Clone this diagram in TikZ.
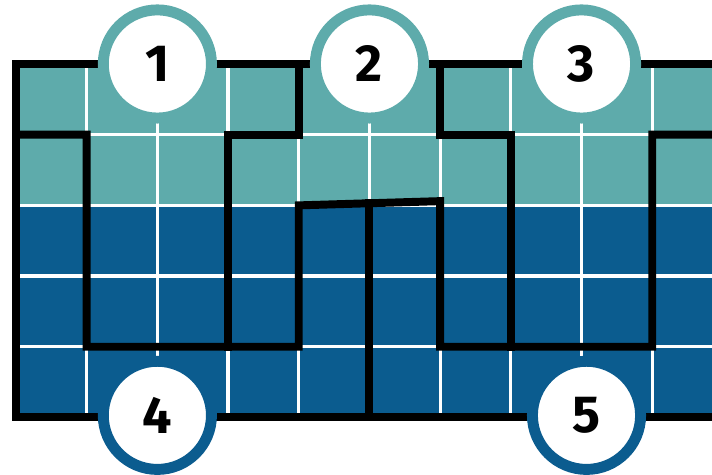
\documentclass[tikz,border=0pt]{standalone}
\usepackage{fontspec}
\setmainfont{Fira Sans}
\usepackage{xcolor}
\definecolor{verdeAzulado}{HTML}{5EABAB}
\definecolor{azulOscuro}{HTML}{0B5C8F}

\begin{document}
\begin{tikzpicture}[
            rejilla/.style={white, line width=1.3pt},
            borde/.style={black, line width=3.2pt, line join=miter, line cap=rect},
            ficha/.style={circle, fill=white, minimum size=1.53cm, inner sep=0pt, line width=4.4pt, font=\fontsize{21}{21}\selectfont\bfseries},
            fichaArriba/.style={ficha, draw=verdeAzulado},
            fichaAbajo/.style={ficha, draw=azulOscuro}
        ]
\clip (-0.226,0.905) rectangle (9.845,-5.813);
\fill[verdeAzulado] (0,0) rectangle (10,-2);
\fill[azulOscuro] (0,-2) rectangle (10,-5);
\draw[rejilla] (0,-5) grid (10,0);

% contorno y piezas
\draw[borde] (10,0) -- (0,0) -- (0,-5) -- (10,-5);
\draw[borde] (0,-1) -- (1,-1) -- (1,-4) -- (4,-4) -- (4,-2) -- (6,-1.94) -- (6,-4) -- (9,-4) -- (9,-1) -- (10,-1);
\draw[borde] (3,-4) -- (3,-1) -- (4,-1) -- (4,0);
\draw[borde] (5,-1.97) -- (5,-5);
\draw[borde] (6,0) -- (6,-1) -- (7,-1) -- (7,-4);

% numeros
\node[fichaArriba] (n1) at (2,0) {1};
\node[fichaArriba] (n2) at (5,0) {2};
\node[fichaArriba] (n3) at (8,0) {3};
\node[fichaAbajo] (n4) at (2,-4.97) {4};
\node[fichaAbajo] (n5) at (8.07,-4.97) {5};
        \end{tikzpicture}
\end{document}
